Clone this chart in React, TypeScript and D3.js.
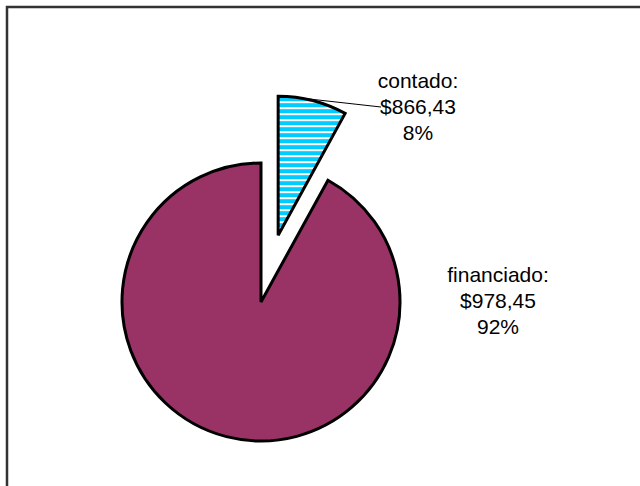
import React from "react";
import * as d3 from "d3";

const categories = ["contado", "financiado"];
const amounts = ["$866,43", "$978,45"];
const percents = [8, 92];
const colors = ["#00CCFF", "#993366"];

const W = 640;
const H = 486;
const cx = 261;
const cy = 302;
const R = 139;
const explode = 69;

export default function App() {
  const pie = d3.pie<number>().sort(null).startAngle(0).endAngle(2 * Math.PI);
  const arcs = pie(percents);
  const arcGen = d3.arc<d3.PieArcDatum<number>>().innerRadius(0).outerRadius(R);

  const offsets = arcs.map((a, i) => {
    const mid = (a.startAngle + a.endAngle) / 2;
    const e = i === 0 ? explode : 0;
    return [Math.sin(mid) * e, -Math.cos(mid) * e];
  });

  // label anchors (center of text block)
  const labelPos = [
    [418, 88],
    [498, 282],
  ];

  const a0 = arcs[0];
  const mid0 = (a0.startAngle + a0.endAngle) / 2;
  const lx1 = cx + offsets[0][0] + Math.sin(mid0 - 0.2) * R;
  const ly1 = cy + offsets[0][1] - Math.cos(mid0 - 0.2) * R;

  return (
    <svg width={W} height={H} style={{ position: "absolute", left: 0, top: 0 }}>
      <defs>
        <pattern id="hatch" patternUnits="userSpaceOnUse" width={6} height={6}>
          <rect width={6} height={6} fill="#ffffff" />
          <rect width={6} height={4} fill={colors[0]} />
        </pattern>
      </defs>
      <rect x={0} y={0} width={W} height={H} fill="#fff" />
      <path d={`M7,${H + 5} L7,7 L${W + 5},7`} fill="none" stroke="#333" strokeWidth={2.5} />
      {arcs.map((a, i) => (
        <path
          key={categories[i]}
          d={arcGen(a) || ""}
          transform={`translate(${cx + offsets[i][0]},${cy + offsets[i][1]})`}
          fill={i === 0 ? "url(#hatch)" : colors[i]}
          stroke="#000"
          strokeWidth={3}
          strokeLinejoin="miter"
        />
      ))}
      <line x1={lx1} y1={ly1} x2={381} y2={107} stroke="#000" strokeWidth={1} />
      {categories.map((c, i) => (
        <text
          key={c}
          x={labelPos[i][0]}
          y={labelPos[i][1]}
          textAnchor="middle"
          fontFamily="'Liberation Sans', Arial, sans-serif"
          fontSize={21}
          fill="#000"
        >
          <tspan x={labelPos[i][0]} dy={0}>{c}:</tspan>
          <tspan x={labelPos[i][0]} dy={26}>{amounts[i]}</tspan>
          <tspan x={labelPos[i][0]} dy={26}>{percents[i]}%</tspan>
        </text>
      ))}
    </svg>
  );
}
